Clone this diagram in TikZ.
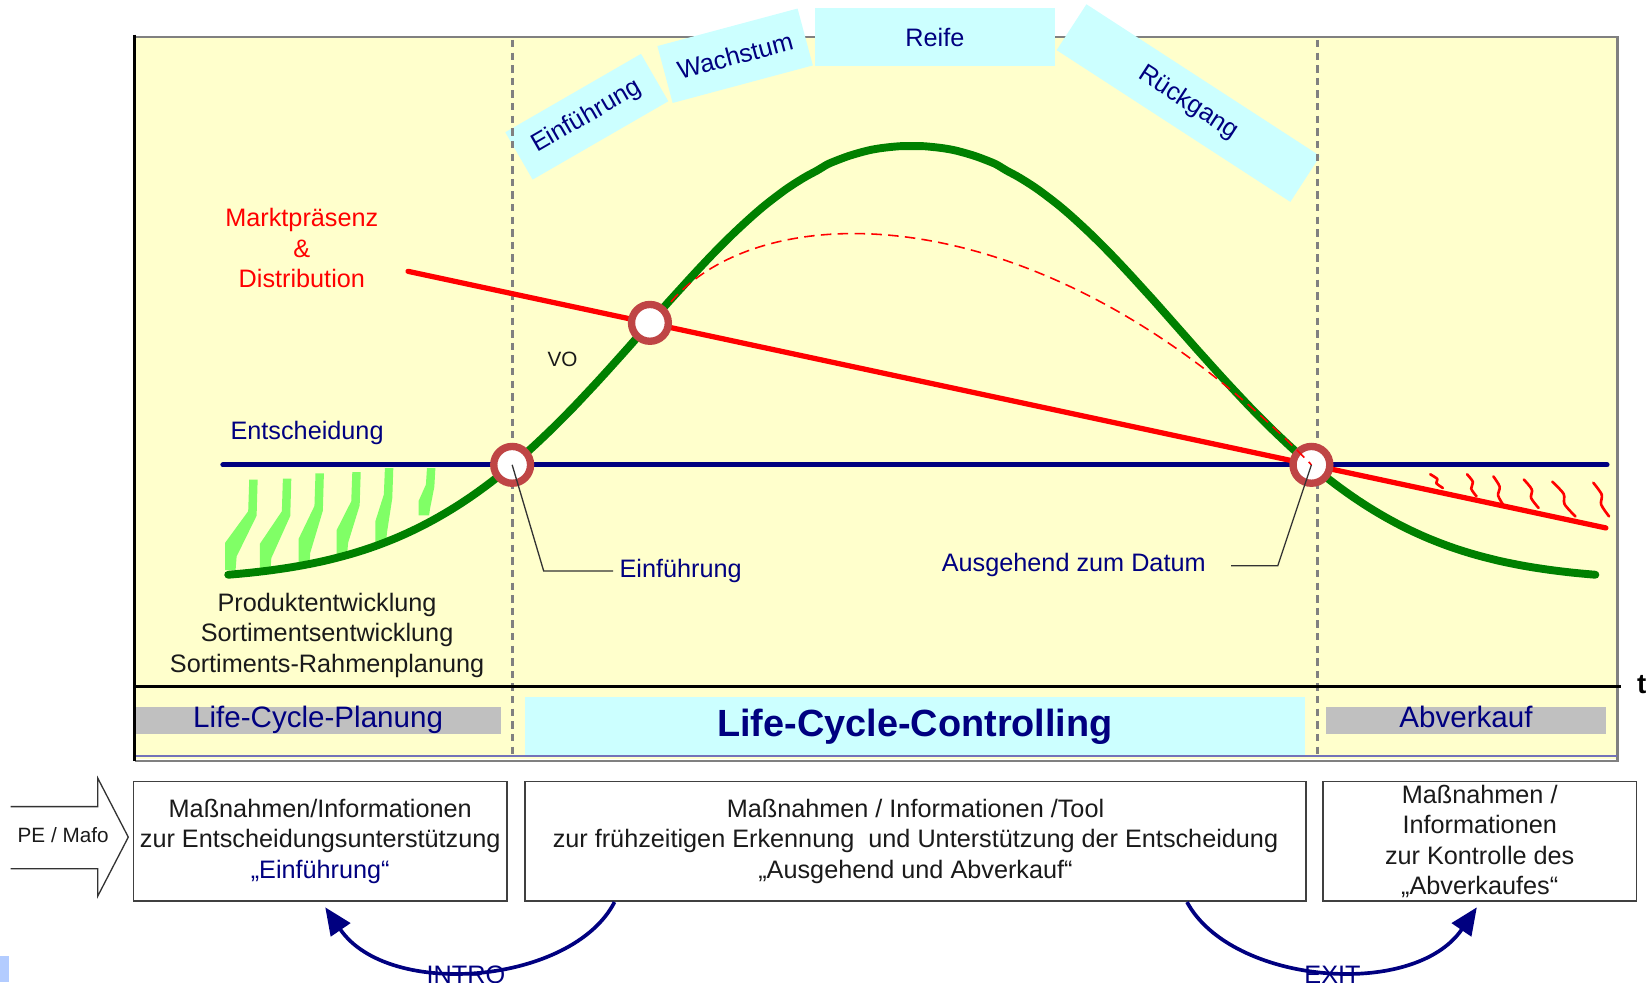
\documentclass[tikz,border=0pt]{standalone}
\usepackage{fontspec}
\setmainfont{Liberation Sans}
\usetikzlibrary{arrows.meta}
\usetikzlibrary{calc}
\definecolor{lcyellow}{HTML}{FFFFCC}
\definecolor{lccyan}{HTML}{CCFFFF}
\definecolor{lcnavy}{HTML}{000080}
\definecolor{lcgreen}{HTML}{008000}
\definecolor{lchatch}{HTML}{80FF66}
\definecolor{lcring}{HTML}{BF4545}
\definecolor{lcgray}{HTML}{C0C0C0}
\definecolor{lctext}{HTML}{1A1A1A}
\definecolor{lcbluesq}{HTML}{B3CCFF}
\newcommand{\lcfont}{\fontsize{13.66}{16.5}\selectfont}
\newcommand{\bandfont}{\fontsize{16}{19}\selectfont}
\newcommand{\smallfont}{\fontsize{11.2}{13.5}\selectfont}
\tikzstyle{phasebox}=[fill=lccyan,text=lcnavy,inner sep=0pt]
\tikzstyle{bandbox}=[fill=lcgray,text=lcnavy,font=\bandfont,inner sep=0pt,text height=11pt,text depth=3pt]
\tikzstyle{infobox}=[draw=black!75,line width=0.03cm,fill=white,text=lctext,align=center,inner sep=0pt,minimum height=2.28cm]
\tikzstyle{knot}=[circle,draw=lcring,fill=white,line width=0.14cm,minimum size=0.7cm,inner sep=0pt]
\tikzstyle{greenline}=[draw=lcgreen,line width=0.15cm,line cap=round]
\tikzstyle{redline}=[draw=red,line width=0.1cm,line cap=round]
\tikzstyle{navyline}=[draw=lcnavy,line width=0.1cm,line cap=round]
\tikzstyle{redhatch}=[draw=red,line width=0.05cm,line cap=round,line join=round]
\tikzstyle{greenhatch}=[fill=lchatch]
\tikzstyle{phaseline}=[draw=black!50,line width=0.06cm,dash pattern=on 0.14cm off 0.1cm]
\tikzstyle{axisline}=[draw=black,line width=0.06cm]
\tikzstyle{callout}=[draw=black!80,line width=0.025cm]
\tikzstyle{looparrow}=[draw=lcnavy,line width=0.07cm,-{Triangle[length=0.52cm,width=0.44cm]}]

\begin{document}
\begin{tikzpicture}[x=0.02cm,y=-0.02cm,font=\lcfont]
    \useasboundingbox (0,0) rectangle (1568,934);
    % panel and axes
    \fill[lcyellow] (128,35) rectangle (1538,722);
    \draw[draw=black!50,line width=0.04cm] (128,35) -- (1538,35) -- (1538,724) -- (128,724);
    \draw[draw=lcnavy!55,line width=0.03cm] (128,719) -- (1538,719);
    
    % phases
    \node[phasebox,rotate=30,minimum width=2.98cm,minimum height=1.04cm] (pintro) at (558,111) {Einführung};
    \node[phasebox,rotate=15,minimum width=2.76cm,minimum height=1.12cm] (pgrowth) at (699,53) {Wachstum};
    \node[phasebox,minimum width=4.56cm,minimum height=1.1cm] (pmature) at (889,35.5) {Reife};
    \node[phasebox,rotate=-33,minimum width=5.3cm,minimum height=1.04cm] (pdecline) at (1130,98) {Rückgang};
    
    \foreach \xd in {487,1253}{
      \draw[phaseline] (\xd,38) -- (\xd,720);
    }
    
    \node[bandbox,minimum width=6.94cm,minimum height=0.52cm] (lcplan) at (302.5,685) {Life-Cycle-Planung};
    \node[bandbox,fill=lccyan,font=\bfseries\fontsize{20.5}{24}\selectfont,text height=15pt,text depth=4pt,minimum width=14.84cm,minimum height=1.1cm] (lcctrl) at (870,690.5) {Life-Cycle-Controlling};
    \node[bandbox,minimum width=5.32cm,minimum height=0.52cm] (lcsale) at (1394,685) {Abverkauf};
    
    \draw[axisline] (128,33) -- (128,724);
    \draw[axisline] (128,653) -- (1541,653);
    \node[font=\bfseries\fontsize{15}{18}\selectfont] (tlabel) at (1561,651) {t};
    
    % hatching
    \foreach \tx/\ty/\bx/\by in {241/456/217/542, 273/455/250/544, 304/450/287/539, 339/449/323/528, 370/445/360/517, 410/445/401/490}{
      \fill[greenhatch] ({\tx-4},\ty) -- ({\tx+4},\ty) -- ({\tx+3},{\ty+0.4*(\by-\ty)})
        -- ({\bx+8},{\by-0.15*(\by-\ty)}) -- ({\bx+7},\by) -- ({\bx-3},\by)
        -- ({\bx-3},{\by-0.3*(\by-\ty)}) -- ({\tx-5},{\ty+0.35*(\by-\ty)}) -- cycle;
    }
    \foreach \tx/\ty/\bx/\by in {1360/451/1372/464, 1395/451/1404/472, 1420/453/1430/481, 1449/456/1463/483, 1476/458/1498/491, 1515/459/1530/491}{
      \draw[redhatch] plot[smooth] coordinates {(\tx,\ty) ({\tx+0.4*(\bx-\tx)+2},{\ty+0.35*(\by-\ty)})
        ({\tx+0.6*(\bx-\tx)-1.5},{\ty+0.65*(\by-\ty)}) (\bx,\by)};
    }
    
    % curves
    \draw[greenline,domain=217:1517,samples=131,smooth] plot (\x,{552-413*exp(-((abs(\x-867)/650+0.0001)^2.2)/0.2317)});
    \draw[navyline] (212,442) -- (1528,442);
    \coordinate (redstart) at (388,258);
    \coordinate (redend) at (1527,502);
    \draw[redline] (redstart) -- (redend);
    
    \node[knot] (c1) at (487,442) {};
    \node[knot] (c2) at (618,307) {};
    \node[knot] (c3) at (1247,442) {};
    \draw[draw=red,line width=0.03cm,dash pattern=on 0.2cm off 0.12cm] (638,287) .. controls (728,182) and (1000,185) .. (c3.center);
    
    % labels
    \node[text=red,align=center] (markt) at (287,236) {Marktpräsenz\\\&\\Distribution};
    \node[font=\smallfont,text=lctext] (vo) at (535,342) {VO};
    \node[text=lcnavy] (entsch) at (292,412) {Entscheidung};
    \node[text=lctext,align=center] (produkt) at (311,604) {Produktentwicklung\\Sortimentsentwicklung\\Sortiments-Rahmenplanung};
    
    \node[anchor=west,text=lcnavy] (lblintro) at (583,543) {Einführung};
    \draw[callout] (c1.center) -- (517,543) -- (lblintro.west);
    \node[text=lcnavy] (lblexit) at (1021,537) {Ausgehend zum Datum};
    \draw[callout] (c3.center) -- (1215,538) -- ($(lblexit.east)+(18,1)$);
    
    % bottom boxes
    \draw[draw=black!80,line width=0.025cm] (10,767) -- (93,767) -- (93,740) -- (122,796) -- (93,852) -- (93,826) -- (10,826);
    \node[font=\smallfont,text=lctext] (pe) at (60,794) {PE / Mafo};
    \node[infobox,minimum width=7.1cm] (box1) at (304.5,800) {Maßnahmen/Informationen\\zur Entscheidungsunterstützung\\\textcolor{lcnavy}{„Einführung“}};
    \node[infobox,minimum width=14.86cm] (box2) at (870.5,800) {Maßnahmen / Informationen /Tool\\zur frühzeitigen Erkennung \ und Unterstützung der Entscheidung\\„Ausgehend und Abverkauf“};
    \node[infobox,minimum width=5.96cm] (box3) at (1407,800) {Maßnahmen /\\Informationen\\zur Kontrolle des\\„Abverkaufes“};
    
    \draw[looparrow] ($(box2.south west)+(86,0)$) .. controls +(-40,78) and +(60,88) .. ($(box1.south west)+(183,5)$);
    \draw[looparrow] ($(box2.south east)+(-114,0)$) .. controls +(42,78) and +(-60,88) .. ($(box3.south west)+(147,5)$);
    \node[text=lcnavy] (intro) at (443,927) {INTRO};
    \node[text=lcnavy] (exit) at (1267,927) {EXIT};
    
    \fill[lcbluesq] (0,909) rectangle (9,934);
\end{tikzpicture}
\end{document}
